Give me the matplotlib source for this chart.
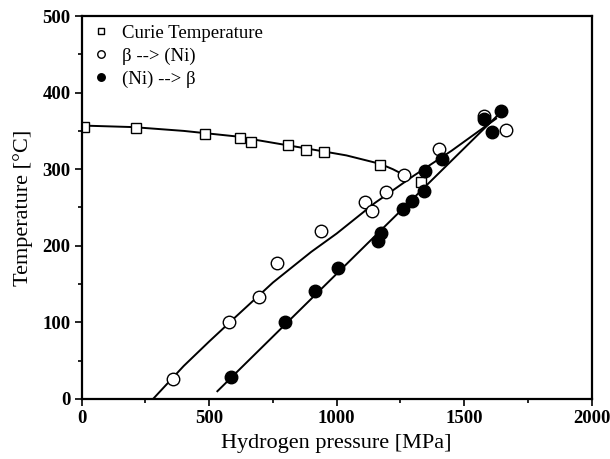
import numpy as np
import matplotlib
matplotlib.use("Agg")
import matplotlib.pyplot as plt
from matplotlib.ticker import MultipleLocator

# Curie temperature (open squares)
curie_p = [10, 214, 485, 622, 663, 809, 881, 950, 1170, 1329]
curie_t = [355, 354, 346, 341, 335, 332, 325, 322, 305, 283]

# beta --> (Ni) (open circles)
b2ni_p = [358, 578, 695, 767, 940, 1110, 1138, 1195, 1263, 1400, 1578, 1663]
b2ni_t = [26, 100, 133, 178, 219, 257, 246, 270, 292, 327, 369, 351]

# (Ni) --> beta (filled circles)
ni2b_p = [587, 797, 914, 1005, 1162, 1175, 1260, 1294, 1341, 1348, 1414, 1578, 1610, 1646]
ni2b_t = [28, 101, 141, 171, 206, 216, 248, 258, 272, 297, 313, 366, 348, 376]

# guide lines
curie_line_p = [0, 200, 400, 600, 776, 900, 1038, 1170, 1220, 1267]
curie_line_t = [357, 355, 350, 343, 333, 326, 318, 307, 300, 292]
b2ni_line_p = [280, 400, 500, 600, 750, 900, 1000, 1150, 1300, 1450, 1625]
b2ni_line_t = [0, 43, 75, 106, 152, 192, 216, 256, 291, 324, 366]
ni2b_line_p = [532, 1630]
ni2b_line_t = [10, 370]

plt.rcParams['font.family'] = ['Liberation Serif', 'DejaVu Serif']

fig = plt.figure(figsize=(6.1, 4.59), dpi=100)
ax = fig.add_axes([0.134, 0.131, 0.836, 0.834])

ax.plot(curie_line_p, curie_line_t, color='black', lw=1.4)
ax.plot(b2ni_line_p, b2ni_line_t, color='black', lw=1.4)
ax.plot(ni2b_line_p, ni2b_line_t, color='black', lw=1.4)

ax.plot(curie_p, curie_t, 's', ms=7.5, mfc='white', mec='black', mew=1.0,
        ls='none', label='Curie Temperature')
ax.plot(b2ni_p, b2ni_t, 'o', ms=9, mfc='white', mec='black', mew=1.0,
        ls='none', label='β --> (Ni)')
ax.plot(ni2b_p, ni2b_t, 'o', ms=9, mfc='black', mec='black', mew=1.0,
        ls='none', label='(Ni) --> β')

ax.set_xlim(0, 2000)
ax.set_ylim(0, 500)
ax.xaxis.set_major_locator(MultipleLocator(500))
ax.xaxis.set_minor_locator(MultipleLocator(250))
ax.yaxis.set_major_locator(MultipleLocator(100))
ax.yaxis.set_minor_locator(MultipleLocator(50))
ax.tick_params(which='both', direction='out', top=False, right=False, width=1.2)
ax.tick_params(which='major', length=5, labelsize=13.5, pad=3)
ax.tick_params(which='minor', length=3)
for lab in ax.get_xticklabels() + ax.get_yticklabels():
    lab.set_fontweight('bold')
for s in ax.spines.values():
    s.set_linewidth(1.6)

ax.set_xlabel('Hydrogen pressure [MPa]', fontsize=16, labelpad=5)
ax.set_ylabel('Temperature [°C]', fontsize=16, labelpad=7)

leg = ax.legend(loc='upper left', frameon=False, fontsize=13.5, markerscale=0.6,
                handletextpad=0.5, labelspacing=0.3, borderaxespad=0.05,
                handlelength=1.2)

fig.savefig('out.png', dpi=100)
